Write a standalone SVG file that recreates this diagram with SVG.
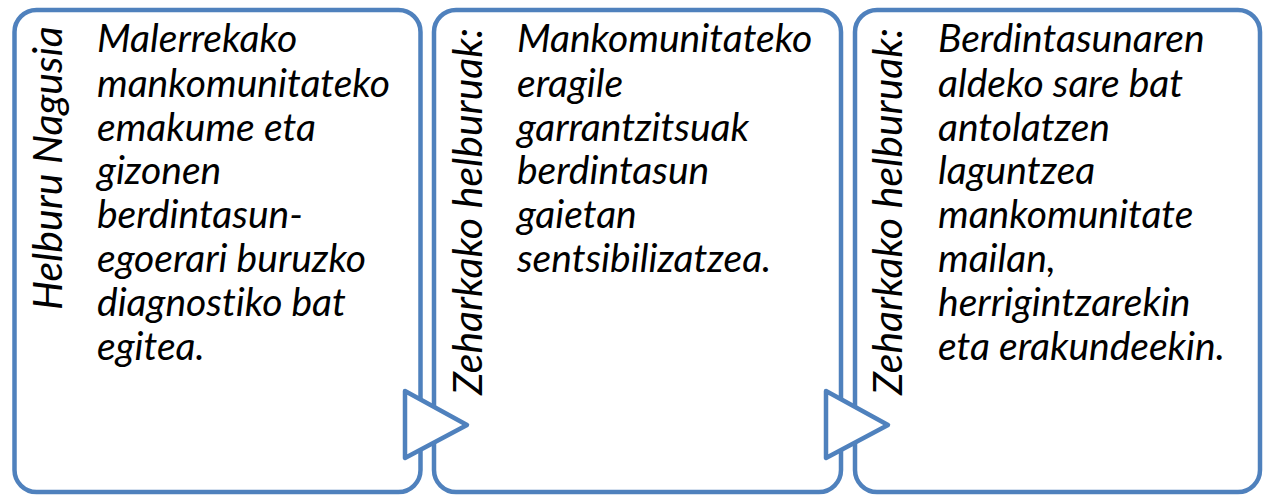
<svg xmlns="http://www.w3.org/2000/svg" width="1266" height="495" viewBox="0 0 1266 495">
<style>
.box{fill:#fff;stroke:#4f81bd;stroke-width:4.5}
.arr{fill:#fff;stroke:#4f81bd;stroke-width:4.5;stroke-linejoin:round}
.t{font-family:Lato,"Liberation Sans",sans-serif;font-style:italic;fill:#000;font-variant-ligatures:none}
.m{font-size:39px}
.v{font-size:41px}
</style>
<rect width="1266" height="495" fill="#fff"/>
<g id="node1">
<rect class="box" x="14.5" y="10" width="406" height="482" rx="22"/>
<text class="t v" transform="translate(62,310) rotate(-90)">Helburu Nagusia</text>
<text class="t m">
<tspan x="97" y="52">Malerrekako</tspan>
<tspan x="97" y="97">mankomunitateko</tspan>
<tspan x="97" y="141">emakume eta</tspan>
<tspan x="97" y="184">gizonen</tspan>
<tspan x="97" y="228">berdintasun-</tspan>
<tspan x="97" y="272">egoerari buruzko</tspan>
<tspan x="97" y="316">diagnostiko bat</tspan>
<tspan x="97" y="360">egitea.</tspan>
</text>
</g>
<g id="node2">
<rect class="box" x="434" y="10" width="407" height="482" rx="22"/>
<text class="t v" transform="translate(482,395) rotate(-90)">Zeharkako helburuak:</text>
<text class="t m">
<tspan x="517" y="52">Mankomunitateko</tspan>
<tspan x="517" y="97">eragile</tspan>
<tspan x="517" y="141">garrantzitsuak</tspan>
<tspan x="517" y="184">berdintasun</tspan>
<tspan x="517" y="228">gaietan</tspan>
<tspan x="517" y="272">sentsibilizatzea.</tspan>
</text>
</g>
<g id="node3">
<rect class="box" x="855" y="10" width="405" height="482" rx="22"/>
<text class="t v" transform="translate(902,395) rotate(-90)">Zeharkako helburuak:</text>
<text class="t m">
<tspan x="938" y="52">Berdintasunaren</tspan>
<tspan x="938" y="97">aldeko sare bat</tspan>
<tspan x="938" y="141">antolatzen</tspan>
<tspan x="938" y="184">laguntzea</tspan>
<tspan x="938" y="228">mankomunitate</tspan>
<tspan x="938" y="272">mailan,</tspan>
<tspan x="938" y="316">herrigintzarekin</tspan>
<tspan x="938" y="360">eta erakundeekin.</tspan>
</text>
</g>
<g id="connectors">
<polygon class="arr" points="405,391 467,425 405,458"/>
<polygon class="arr" points="826,391 888,425 826,458"/>
</g>
</svg>
